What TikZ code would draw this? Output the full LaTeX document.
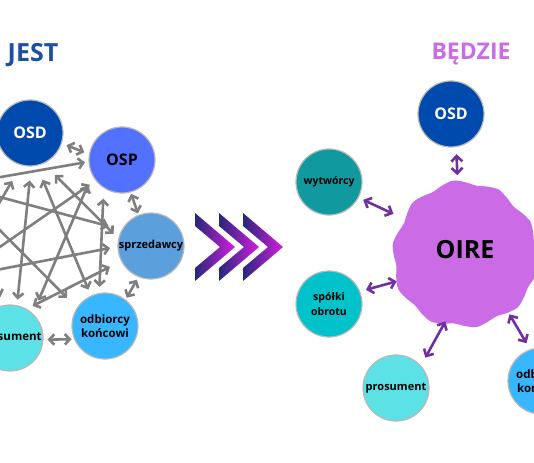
\documentclass[tikz,border=0pt]{standalone}
\usepackage{fontspec}
\setmainfont{Open Sans}
\usetikzlibrary{arrows.meta}
\definecolor{osdc}{HTML}{004AAD}
\definecolor{ospc}{HTML}{5271FF}
\definecolor{sprc}{HTML}{5B9FDD}
\definecolor{odbc}{HTML}{38B6FF}
\definecolor{proc}{HTML}{5CE1E6}
\definecolor{wytc}{HTML}{10999E}
\definecolor{spoc}{HTML}{00C2CB}
\definecolor{oirec}{HTML}{CB6CE6}
\definecolor{jestc}{HTML}{1E4FA5}
\definecolor{garrc}{HTML}{7F7F7F}
\definecolor{parrc}{HTML}{7030A0}
\definecolor{chevl}{HTML}{26287A}
\definecolor{chevr}{HTML}{D61CE0}
\tikzset{
  circ/.style={circle, minimum size=66pt, inner sep=0pt, draw=gray!55, line width=1.2pt, align=center},
  fbig/.style={font=\bfseries\fontsize{16}{18}\selectfont},
  fsmall/.style={font=\bfseries\fontsize{11.5}{14.5}\selectfont},
  garr/.style={draw=garrc, line width=2.6pt, {Straight Barb[length=5pt,width=10.5pt]}-{Straight Barb[length=5pt,width=10.5pt]}},
  gone/.style={draw=garrc, line width=2.6pt, -{Straight Barb[length=5pt,width=10.5pt]}},
  parr/.style={draw=parrc, line width=2.6pt, {Straight Barb[length=5.5pt,width=11pt]}-{Straight Barb[length=5.5pt,width=11pt]}},
  title/.style={font=\bfseries\fontsize{25}{28}\selectfont, inner sep=0pt},
}
\begin{document}
\begin{tikzpicture}[x=1pt,y=-1pt]
\useasboundingbox (0,0) rectangle (534,462);
\clip (0,0) rectangle (534,462);
\fill[white] (0,0) rectangle (534,462);

% titles
\node[title, text=jestc] (jest) at (33,55) {JEST};
\node[title, text=oirec, font=\bfseries\fontsize{23}{26}\selectfont] (bedzie) at (471,54) {BĘDZIE};

% ===== left: JEST =====
\node[circ, fill=osdc, text=white, fbig] (losd) at (30,133) {OSD};
\node[circ, fill=ospc, fbig] (losp) at (122,160) {OSP};
\node[circ, fill=sprc, font=\bfseries\fontsize{11}{13}\selectfont] (lspr) at (151,246) {sprzedawcy};
\node[circ, fill=odbc, fsmall] (lodb) at (105,326) {odbiorcy\\końcowi};
\node[circ, fill=proc, fsmall] (lpro) at (10,338) {prosument};
\coordinate (lwyt) at (-45,185);
\coordinate (lspo) at (-45,278);

% adjacent short arrows
\draw[garr, shorten <=5pt, shorten >=5pt] (losd.-18) -- (losp.170);
\draw[garr, shorten <=1.5pt, shorten >=1.5pt] (losp.-75) -- (lspr.112);
\draw[garr, shorten <=3pt, shorten >=2pt] (lspr.248) -- (lodb.52);
\draw[garr, shorten <=2.5pt, shorten >=4pt] (lodb.203) -- (lpro.-3);
% long mesh arrows between visible nodes
\draw[garr, shorten <=14pt, shorten >=5.5pt] (losd.-88) -- (lpro.78);
\draw[garr, shorten <=15pt, shorten >=6.5pt] (losd.-78) -- (lodb.115);
\draw[garr, shorten <=16pt, shorten >=6.5pt] (losd.-66) -- (lspr.167);
\draw[garr, shorten <=11pt, shorten >=14pt] (losp.-153) -- (lpro.47.6);
\draw[garr, shorten <=10.5pt, shorten >=6pt] (losp.-123) -- (lodb.100);
\draw[garr, shorten <=12.5pt, shorten >=6.5pt] (lspr.207) -- (lpro.60);
% mesh arrows from nodes beyond the left edge
\draw[gone, shorten >=3.5pt] (lwyt) -- (losp.183);
\draw[gone, shorten >=13.5pt] (lwyt) -- (lspr.151);
\draw[gone, shorten >=14pt] (lwyt) -- (lodb.147);
\draw[gone, shorten >=8.5pt] (lwyt) -- (lpro.101);
\draw[gone, shorten >=18pt] (lspo) -- (losd.-105);
\draw[gone, shorten >=7pt] (lspo) -- (losp.-142);
\draw[gone, shorten >=7.5pt] (lspo) -- (lspr.181);

% ===== chevrons =====
\foreach \x in {195,219,243}
  \shade[left color=chevl, right color=chevr]
    (\x,213) -- (\x+40,247) -- (\x,281) -- (\x,268) -- (\x+25,247) -- (\x,226) -- cycle;

% ===== right: BEDZIE =====
\fill[oirec, shift={(465,255)}] plot[smooth cycle, variable=\t, samples=40, domain=0:351] (\t:{72+2.2*sin(10*\t)+1.2*sin(3*\t+40)});
\node[circle, minimum size=144pt, inner sep=0pt, font=\bfseries\fontsize{25}{28}\selectfont] (oire) at (465,250) {OIRE};
\node[circ, fill=osdc, text=white, fbig] (rosd) at (451,114) {OSD};
\node[circ, fill=wytc, font=\bfseries\fontsize{10.5}{13}\selectfont] (rwyt) at (329,182) {wytwórcy};
\node[circ, fill=spoc, font=\bfseries\fontsize{10.5}{15}\selectfont] (rspo) at (329,304) {spółki\\obrotu};
\node[circ, fill=proc, font=\bfseries\fontsize{11}{13}\selectfont] (rpro) at (396,388) {prosument};
\node[circ, fill=odbc, fsmall] (rodb) at (541,381) {odbiorcy\\końcowi};
\coordinate (rspr) at (600,175);

\draw[parr, shorten <=7pt, shorten >=3pt] (rosd.-81) -- (oire.96);
\draw[parr, shorten <=5pt, shorten >=8pt] (rwyt.-28) -- (oire.153);
\draw[parr, shorten <=6pt, shorten >=3pt] (rspo.22) -- (oire.205);
\draw[parr, shorten <=9pt, shorten >=2pt] (rpro.42) -- (oire.255);
\draw[parr, shorten <=7pt, shorten >=6pt] (rodb.109) -- (oire.-55);
\draw[parr, shorten <=8pt] (oire.30) -- (rspr);
\end{tikzpicture}
\end{document}
